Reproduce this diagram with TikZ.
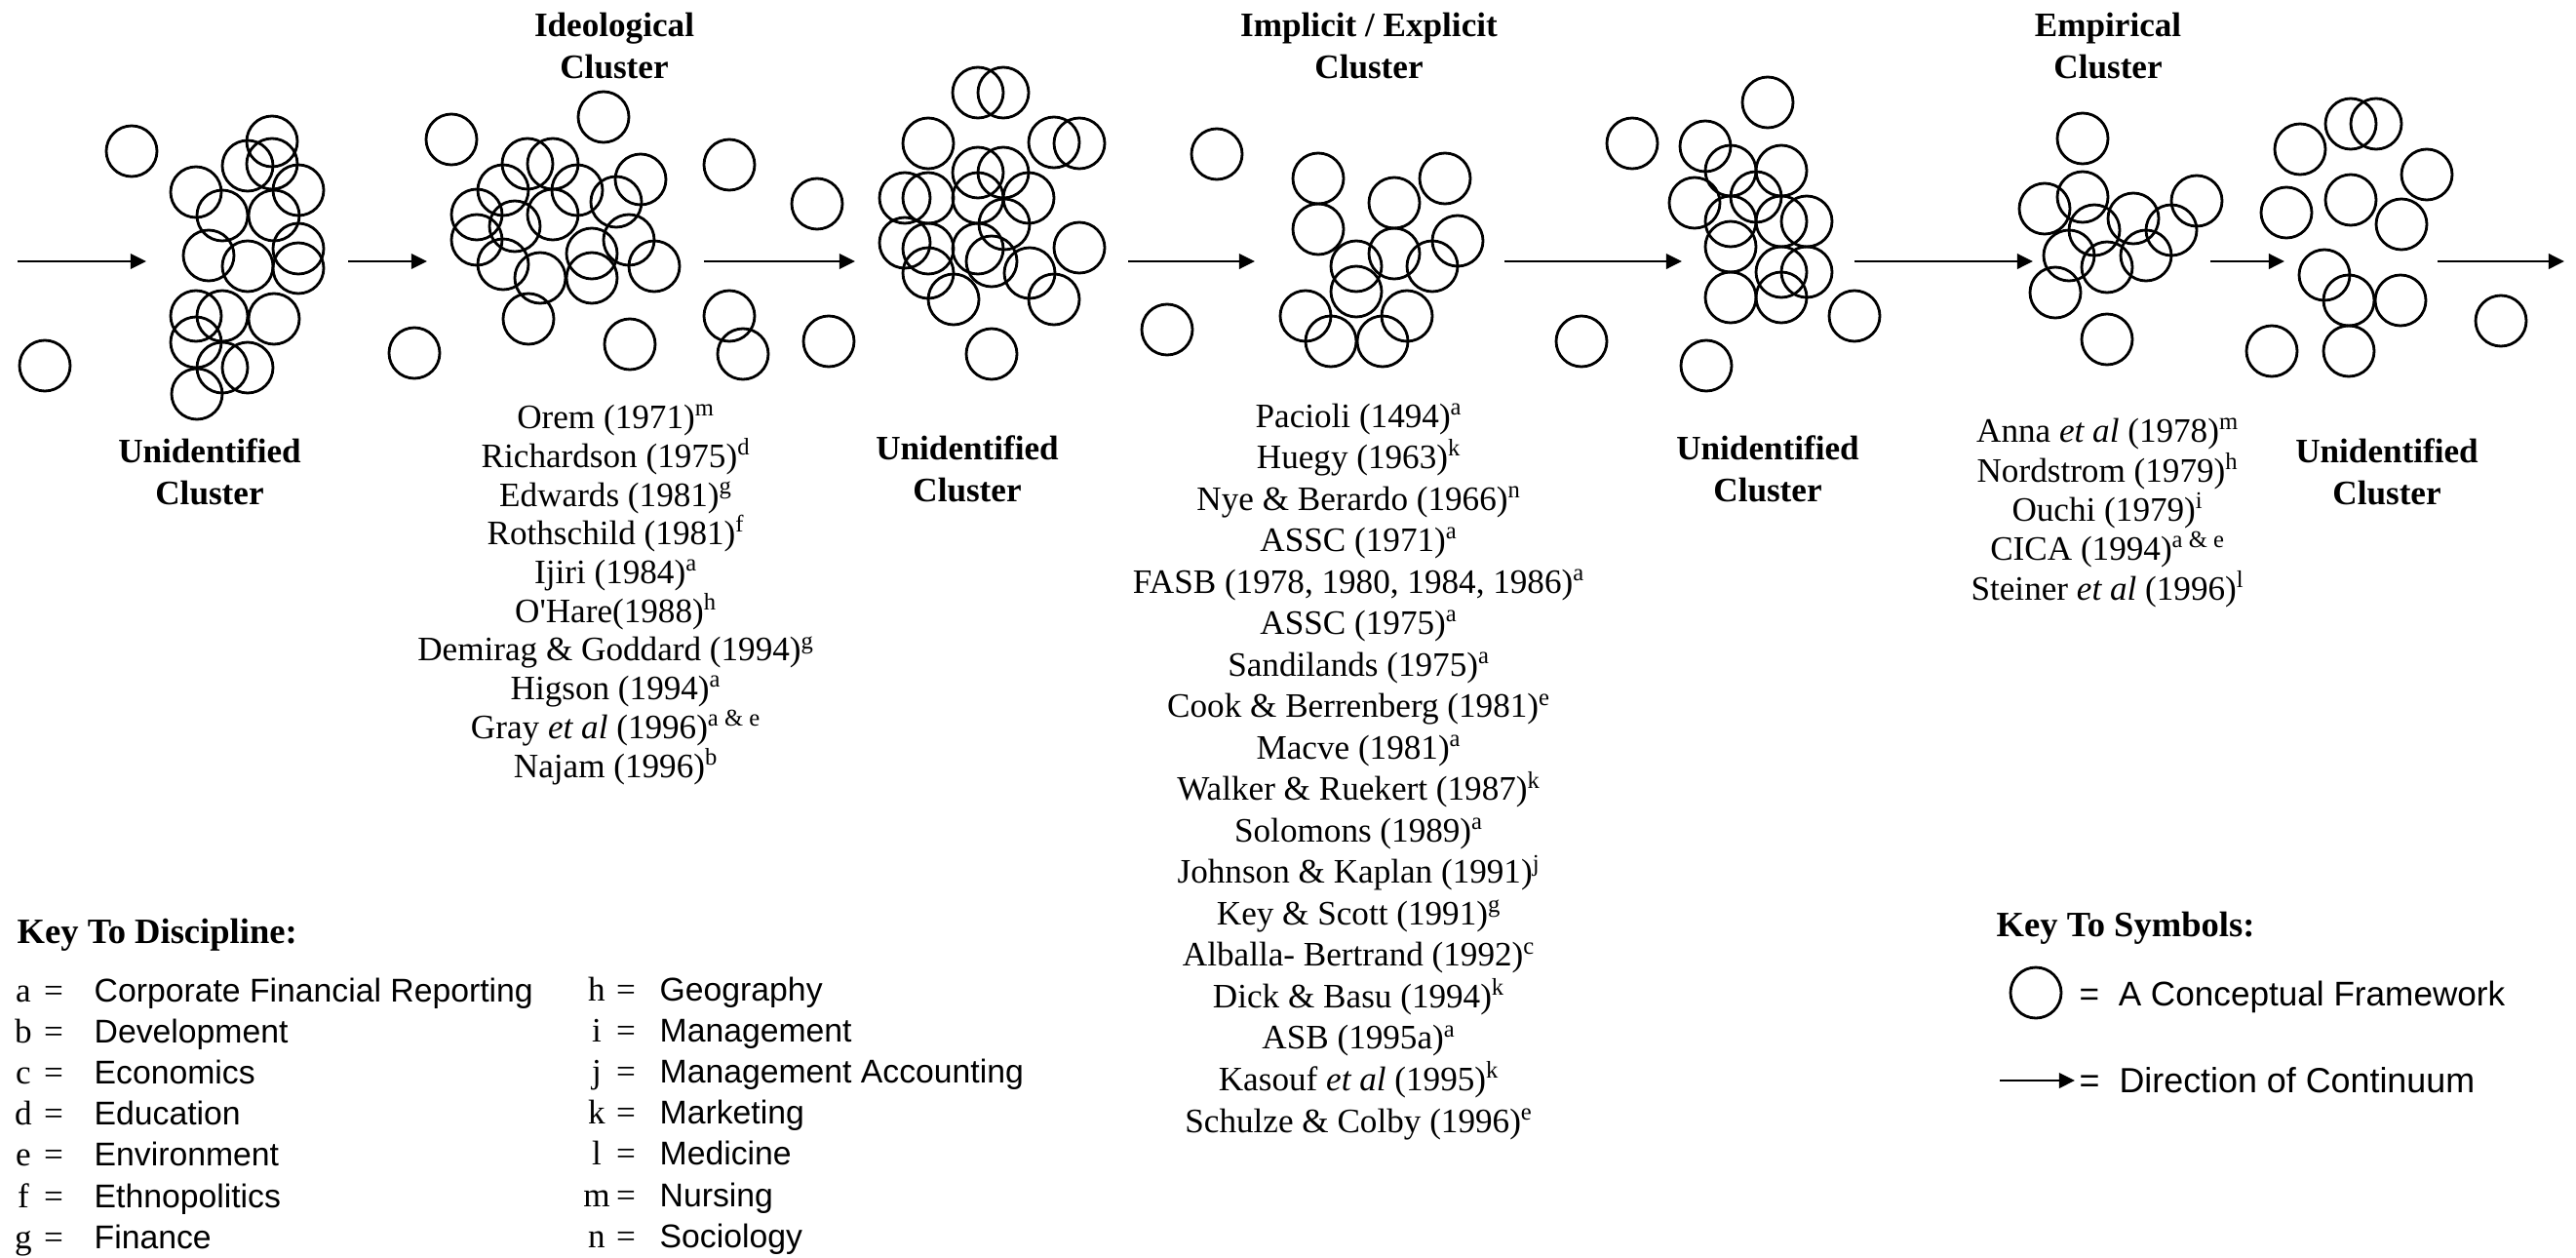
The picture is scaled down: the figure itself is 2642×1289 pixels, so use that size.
\documentclass[tikz,border=0pt]{standalone}
\usepackage{fontspec}
\setmainfont{Liberation Serif}
\setsansfont{Liberation Sans}
\usetikzlibrary{arrows.meta}
% centres of the circles, one list per cluster (x/y, y downwards)
\def\grupoA{135/155,46/375,279/145,254/170,279/168,306/195,201/197,228/221,281/221,306/255,214/262,254/273,306/275,201/324,228/324,281/327,201/351,228/377,254/377,202/404}
\def\grupoB{463/143,619/120,425/362,542/327,646/353,541/168,567/168,516/195,592/195,657/184,632/207,489/220,528/232,567/220,489/246,516/271,554/285,607/260,607/285,645/246,671/273}
\def\grupoC{748/169,838/209,748/324,762/363,850/350,1003/95,1029/95,952/147,1081/146,1107/147,1003/177,1029/177,928/203,952/203,1003/203,1055/203,1030/230,928/249,952/255,1003/255,1017/268,1107/254,952/280,978/307,1056/280,1081/307,1017/363}
\def\grupoD{1248/158,1197/338,1352/183,1352/235,1430/208,1482/183,1495/247,1430/260,1391/273,1469/273,1391/299,1339/324,1443/324,1365/350,1418/350}
\def\grupoE{1674/147,1622/350,1813/105,1749/150,1775/175,1827/175,1738/208,1801/202,1775/227,1827/227,1853/227,1775/253,1827/279,1853/279,1775/305,1827/305,1750/375,1902/324}
\def\grupoF{2136/142,2136/202,2097/214,2148/236,2188/224,2253/206,2227/236,2122/262,2161/274,2201/262,2108/300,2161/348}
\def\grupoG{2411/127,2437/127,2359/153,2489/179,2345/218,2411/205,2463/230,2384/282,2409/308,2462/308,2330/360,2409/360,2565/329}
\def\crad{2.6mm}
\tikzset{
  cfw/.style={black, line width=0.8pt},
  flow/.style={-{Triangle[length=4.6pt, width=4.4pt]}, black, line width=0.7pt},
  head/.style={font=\bfseries\fontsize{10}{12}\selectfont, align=center, inner sep=0pt, anchor=base},
  refs/.style={font=\fontsize{10}{12.1}\selectfont, align=center, inner sep=0pt, anchor=base},
  keyhead/.style={font=\bfseries\fontsize{10.4}{12}\selectfont, inner sep=0pt, anchor=base west},
  keylet/.style={font=\fontsize{10}{12}\selectfont, inner sep=0pt, anchor=base},
  keytxt/.style={font=\sffamily\fontsize{9.6}{12}\selectfont, inner sep=0pt, anchor=base west},
}

\begin{document}
\begin{tikzpicture}[x=0.1mm, y=-0.1mm]
  \useasboundingbox (0,0) rectangle (2642,1289);

  % ---------------- circles ----------------
  \foreach \cx/\cy in \grupoA { \draw[cfw] (\cx,\cy) circle[radius=\crad]; }
  \foreach \cx/\cy in \grupoB { \draw[cfw] (\cx,\cy) circle[radius=\crad]; }
  \foreach \cx/\cy in \grupoC { \draw[cfw] (\cx,\cy) circle[radius=\crad]; }
  \foreach \cx/\cy in \grupoD { \draw[cfw] (\cx,\cy) circle[radius=\crad]; }
  \foreach \cx/\cy in \grupoE { \draw[cfw] (\cx,\cy) circle[radius=\crad]; }
  \foreach \cx/\cy in \grupoF { \draw[cfw] (\cx,\cy) circle[radius=\crad]; }
  \foreach \cx/\cy in \grupoG { \draw[cfw] (\cx,\cy) circle[radius=\crad]; }

  % ---------------- direction of the continuum ----------------
  \foreach \i/\xa/\xb in {1/18/150, 2/357/438, 3/722/877, 4/1157/1287, 5/1543/1725, 6/1902/2085, 7/2267/2343, 8/2500/2630} {
    \coordinate (f\i a) at (\xa,268);
    \coordinate (f\i b) at (\xb,268);
    \draw[flow] (f\i a) -- (f\i b);
  }

  % ---------------- cluster titles (base = last line) ----------------
  \node[head] (hideo) at (630,80) {Ideological\\Cluster};
  \node[head] (himpl) at (1404,80) {Implicit / Explicit\\Cluster};
  \node[head] (hemp) at (2162,80) {Empirical\\Cluster};
  \node[head] (un1) at (215,517) {Unidentified\\Cluster};
  \node[head] (un2) at (992,514) {Unidentified\\Cluster};
  \node[head] (un3) at (1813,514) {Unidentified\\Cluster};
  \node[head] (un4) at (2448,517) {Unidentified\\Cluster};

  % ---------------- references ----------------
  \node[refs, font=\fontsize{10}{11.3}\selectfont] (lideo) at (632,797) {Orem (1971)\textsuperscript{m}\\
    Richardson (1975)\textsuperscript{d}\\
    Edwards (1981)\textsuperscript{g}\\
    Rothschild (1981)\textsuperscript{f}\\
    Ijiri (1984)\textsuperscript{a}\\
    O\textquotesingle Hare(1988)\textsuperscript{h}\\
    Demirag \& Goddard (1994)\textsuperscript{g}\\
    Higson (1994)\textsuperscript{a}\\
    Gray \textit{et al} (1996)\textsuperscript{a \& e}\\
    Najam (1996)\textsuperscript{b}};
  \node[refs] (limpl) at (1394,1161) {Pacioli (1494)\textsuperscript{a}\\
    Huegy (1963)\textsuperscript{k}\\
    Nye \& Berardo (1966)\textsuperscript{n}\\
    ASSC (1971)\textsuperscript{a}\\
    FASB (1978, 1980, 1984, 1986)\textsuperscript{a}\\
    ASSC (1975)\textsuperscript{a}\\
    Sandilands (1975)\textsuperscript{a}\\
    Cook \& Berrenberg (1981)\textsuperscript{e}\\
    Macve (1981)\textsuperscript{a}\\
    Walker \& Ruekert (1987)\textsuperscript{k}\\
    Solomons (1989)\textsuperscript{a}\\
    Johnson \& Kaplan (1991)\textsuperscript{j}\\
    Key \& Scott (1991)\textsuperscript{g}\\
    Alballa- Bertrand (1992)\textsuperscript{c}\\
    Dick \& Basu (1994)\textsuperscript{k}\\
    ASB (1995a)\textsuperscript{a}\\
    Kasouf \textit{et al} (1995)\textsuperscript{k}\\
    Schulze \& Colby (1996)\textsuperscript{e}};
  \node[refs, font=\fontsize{10}{10.3}\selectfont] (lemp) at (2162,615) {Anna \textit{et al} (1978)\textsuperscript{m}\\
    Nordstrom (1979)\textsuperscript{h}\\
    Ouchi (1979)\textsuperscript{i}\\
    CICA (1994)\textsuperscript{a \& e}\\
    Steiner \textit{et al} (1996)\textsuperscript{l}};

  % ---------------- key to discipline ----------------
  \node[keyhead] (kdisc) at (17,967) {Key To Discipline:};
  \foreach \l/\t [count=\i] in {a/Corporate Financial Reporting, b/Development, c/Economics, d/Education, e/Environment, f/Ethnopolitics, g/Finance} {
    \node[keylet] (kl\i) at (24,{1027+42.2*(\i-1)}) {\l};
    \node[keylet] (ke\i) at (55,{1027+42.2*(\i-1)}) {=};
    \node[keytxt] (kt\i) at (96,{1027+42.2*(\i-1)}) {\t};
  }
  \foreach \l/\t [count=\i] in {h/Geography, i/Management, j/Management Accounting, k/Marketing, l/Medicine, m/Nursing, n/Sociology} {
    \node[keylet] (ml\i) at (612,{1026+42.2*(\i-1)}) {\l};
    \node[keylet] (me\i) at (642,{1026+42.2*(\i-1)}) {=};
    \node[keytxt] (mt\i) at (676,{1026+42.2*(\i-1)}) {\t};
  }

  % ---------------- key to symbols ----------------
  \node[keyhead] (ksym) at (2047,960) {Key To Symbols:};
  \draw[cfw] (2088,1018) circle[radius=\crad];
  \node[keytxt, font=\sffamily\fontsize{10}{12}\selectfont] (kcf) at (2132,1031) {= \ A Conceptual Framework};
  \coordinate (kfa) at (2051,1108);
  \coordinate (kfb) at (2128,1108);
  \draw[flow] (kfa) -- (kfb);
  \node[keytxt, font=\sffamily\fontsize{10.2}{12}\selectfont] (kdir) at (2132,1120) {= \ Direction of Continuum};
\end{tikzpicture}
\end{document}
